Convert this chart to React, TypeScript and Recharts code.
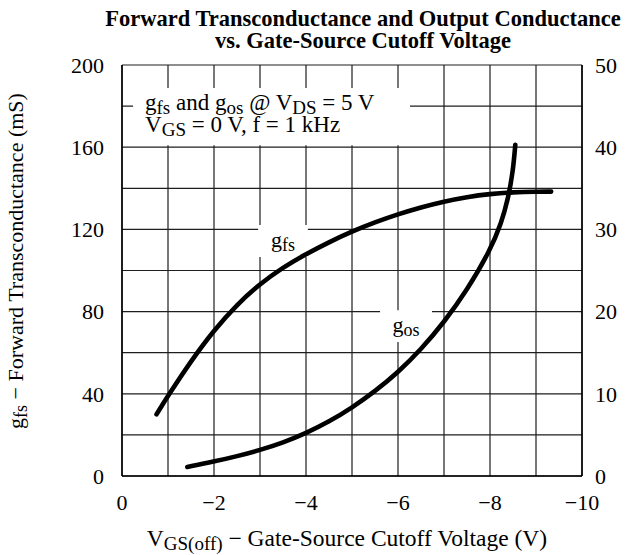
import React from "react";
import { LineChart, Line, XAxis, YAxis, CartesianGrid, ReferenceArea } from "recharts";

const FONT = '"Liberation Serif", "Times New Roman", Times, serif';

// axis ticks
const vgsTicks = [0, -1, -2, -3, -4, -5, -6, -7, -8, -9, -10];
const gfsTicks = [0, 20, 40, 60, 80, 100, 120, 140, 160, 180, 200];
const gosTicks = [0, 10, 20, 30, 40, 50];

// gfs curve (left axis, mS)
const gfsVgs = [-0.75, -1, -1.5, -2, -2.5, -3, -3.5, -4, -4.5, -5, -5.5, -6, -6.5, -7, -7.5, -8, -8.5, -9, -9.33];
const gfsValues = [30, 39, 56, 71, 83.5, 93.5, 101.5, 108, 113.8, 119, 123.5, 127.4, 130.8, 133.6, 135.8, 137.3, 138.1, 138.4, 138.4];

// gos curve (right axis)
const gosVgs = [-1.42, -2, -2.5, -3, -3.5, -4, -4.5, -5, -5.5, -6, -6.5, -7, -7.5, -8, -8.25, -8.4, -8.5, -8.55];
const gosValues = [1.1, 1.75, 2.4, 3.15, 4.05, 5.2, 6.6, 8.3, 10.3, 12.6, 15.4, 18.7, 22.6, 27.4, 30.8, 33.9, 37.1, 40.3];

const gfsData = gfsVgs.map((x, i) => ({ x, gfs: gfsValues[i] }));
const gosData = gosVgs.map((x, i) => ({ x, gos: gosValues[i] }));

const fmtVgs = (v: number) => (v % 2 !== 0 ? "" : v === 0 ? "0" : "\u2212" + Math.abs(v));

function CurveLabel({ viewBox, main, sub }: any) {
  const { x, y, width, height } = viewBox;
  return (
    <text x={x + width / 2} y={y + height / 2 + 6} textAnchor="middle" fontFamily={FONT} fontSize={22} fill="#000">
      <tspan>{main}</tspan>
      <tspan fontSize={18} dy={4}>{sub}</tspan>
    </text>
  );
}

function ConditionsLabel({ viewBox }: any) {
  const { x, y } = viewBox;
  return (
    <text fontFamily={FONT} fontSize={23} fill="#000">
      <tspan x={x + 12} y={y + 22}>g</tspan>
      <tspan fontSize={19} dy={4}>fs</tspan>
      <tspan dy={-4}>{" and g"}</tspan>
      <tspan fontSize={19} dy={4}>os</tspan>
      <tspan dy={-4}>{" @ V"}</tspan>
      <tspan fontSize={19} dy={4}>DS</tspan>
      <tspan dy={-4}>{" = 5 V"}</tspan>
      <tspan x={x + 12} y={y + 44}>V</tspan>
      <tspan fontSize={19} dy={4}>GS</tspan>
      <tspan dy={-4}>{" = 0 V, f = 1 kHz"}</tspan>
    </text>
  );
}

const tickStyle = { fill: "#000", fontSize: 22, fontFamily: FONT };

export default function App() {
  return (
    <div style={{ position: "absolute", left: 0, top: 0, width: 629, height: 555, background: "#fff" }}>
      <LineChart width={629} height={555} margin={{ top: 65, right: 0, bottom: 0, left: 0 }}>
        <CartesianGrid yAxisId="left" stroke="#1e1e1e" strokeWidth={1.2} />
        <XAxis
          type="number"
          dataKey="x"
          domain={[-10, 0]}
          reversed
          allowDataOverflow
          ticks={vgsTicks}
          interval={0}
          tickFormatter={fmtVgs}
          height={79}
          tickLine={false}
          tickSize={0}
          tickMargin={18}
          tick={tickStyle}
          axisLine={{ stroke: "#000", strokeWidth: 1.5 }}
        />
        <YAxis
          yAxisId="left"
          domain={[0, 200]}
          ticks={gfsTicks}
          interval={0}
          tickFormatter={(v: number) => (v % 40 === 0 ? String(v) : "")}
          width={122}
          tickLine={false}
          tickSize={0}
          tickMargin={18}
          tick={tickStyle}
          axisLine={{ stroke: "#000", strokeWidth: 1.5 }}
        />
        <YAxis
          yAxisId="right"
          orientation="right"
          domain={[0, 50]}
          ticks={gosTicks}
          interval={0}
          width={47}
          tickLine={false}
          tickSize={0}
          tickMargin={13}
          tick={{ ...tickStyle, textAnchor: "start" }}
          axisLine={{ stroke: "#000", strokeWidth: 1.5 }}
        />
        <ReferenceArea
          yAxisId="left"
          x1={-0.24}
          x2={-6.26}
          y1={161}
          y2={188.8}
          fill="#fff"
          fillOpacity={1}
          stroke="none"
          label={(p: any) => <ConditionsLabel viewBox={p.viewBox} />}
        />
        <ReferenceArea
          yAxisId="left"
          x1={-2.96}
          x2={-4.04}
          y1={106.6}
          y2={122.2}
          fill="#fff"
          fillOpacity={1}
          stroke="none"
          label={(p: any) => <CurveLabel viewBox={p.viewBox} main="g" sub="fs" />}
        />
        <ReferenceArea
          yAxisId="left"
          x1={-5.61}
          x2={-6.74}
          y1={65.2}
          y2={80.7}
          fill="#fff"
          fillOpacity={1}
          stroke="none"
          label={(p: any) => <CurveLabel viewBox={p.viewBox} main="g" sub="os" />}
        />
        <Line
          yAxisId="left"
          data={gfsData}
          dataKey="gfs"
          type="basis"
          stroke="#000"
          strokeWidth={4.6}
          strokeLinecap="round"
          dot={false}
          activeDot={false}
          isAnimationActive={false}
        />
        <Line
          yAxisId="right"
          data={gosData}
          dataKey="gos"
          type="basis"
          stroke="#000"
          strokeWidth={4.6}
          strokeLinecap="round"
          dot={false}
          activeDot={false}
          isAnimationActive={false}
        />
      </LineChart>
      <svg width={629} height={555} style={{ position: "absolute", left: 0, top: 0, pointerEvents: "none" }}>
        <text x={363} y={26} textAnchor="middle" fontFamily={FONT} fontSize={22.5} fontWeight="bold" fill="#000">
          Forward Transconductance and Output Conductance
        </text>
        <text x={363} y={48} textAnchor="middle" fontFamily={FONT} fontSize={22.5} fontWeight="bold" fill="#000">
          vs. Gate-Source Cutoff Voltage
        </text>
        <text x={347} y={546} textAnchor="middle" fontFamily={FONT} fontSize={23.5} fill="#000">
          <tspan>V</tspan>
          <tspan fontSize={19} dy={4}>GS(off)</tspan>
          <tspan dy={-4}>{" \u2212 Gate-Source Cutoff Voltage (V)"}</tspan>
        </text>
        <text x={23} y={261} transform="rotate(-90 23 261)" textAnchor="middle" fontFamily={FONT} fontSize={22} fill="#000">
          <tspan>g</tspan>
          <tspan fontSize={18} dy={4}>fs</tspan>
          <tspan dy={-4}>{" \u2212 Forward Transconductance (mS)"}</tspan>
        </text>
      </svg>
    </div>
  );
}
